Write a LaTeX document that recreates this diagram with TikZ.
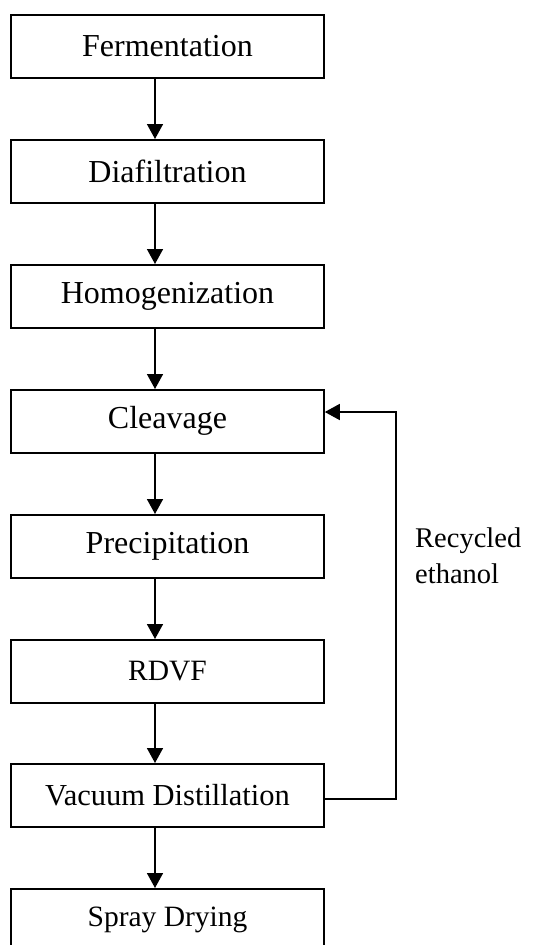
\documentclass[tikz,border=0pt]{standalone}
\usepackage{fontspec}
\setmainfont{Liberation Serif}
\usetikzlibrary{arrows.meta}
\begin{document}
\begin{tikzpicture}[x=1pt,y=1pt,
  stepbox/.style={draw, line width=1.6pt, minimum width=313pt, minimum height=63pt,
    inner sep=0pt, anchor=north, font=\fontsize{32}{38}\selectfont},
  flow/.style={line width=1.6pt, -{Triangle[length=15pt,width=16pt]}}]
\useasboundingbox (0,0) rectangle (535,-945);
\clip (0,0) rectangle (535,-945);
\node[stepbox] (ferm) at (167.5,-14) {Fermentation};
\node[stepbox] (diaf) at (167.5,-139) {Diafiltration};
\node[stepbox] (homo) at (167.5,-264) {Homogenization};
\node[stepbox] (clea) at (167.5,-389) {Cleavage};
\node[stepbox] (prec) at (167.5,-514) {Precipitation};
\node[stepbox, font=\fontsize{29.5}{36}\selectfont] (rdvf) at (167.5,-639) {RDVF};
\node[stepbox, font=\fontsize{30.5}{36}\selectfont] (vacd) at (167.5,-763) {Vacuum Distillation};
\node[stepbox, font=\fontsize{29.5}{36}\selectfont] (spry) at (167.5,-888) {Spray Drying};
\coordinate (bendlow) at (396,-799);
\coordinate (bendhigh) at (396,-412);
\draw[flow] (ferm.south -| 155,0) -- (diaf.north -| 155,0);
\draw[flow] (diaf.south -| 155,0) -- (homo.north -| 155,0);
\draw[flow] (homo.south -| 155,0) -- (clea.north -| 155,0);
\draw[flow] (clea.south -| 155,0) -- (prec.north -| 155,0);
\draw[flow] (prec.south -| 155,0) -- (rdvf.north -| 155,0);
\draw[flow] (rdvf.south -| 155,0) -- (vacd.north -| 155,0);
\draw[flow] (vacd.south -| 155,0) -- (spry.north -| 155,0);
\draw[flow] (vacd.east |- bendlow) -- (bendlow) -- (bendhigh) -- (clea.east |- bendhigh);
% the base anchor of a two-line node sits on its last line
\node[anchor=base west, align=left, font=\fontsize{28.5}{36}\selectfont, inner sep=0pt] (lbl) at (415,-583) {Recycled\\ethanol};
\end{tikzpicture}
\end{document}
